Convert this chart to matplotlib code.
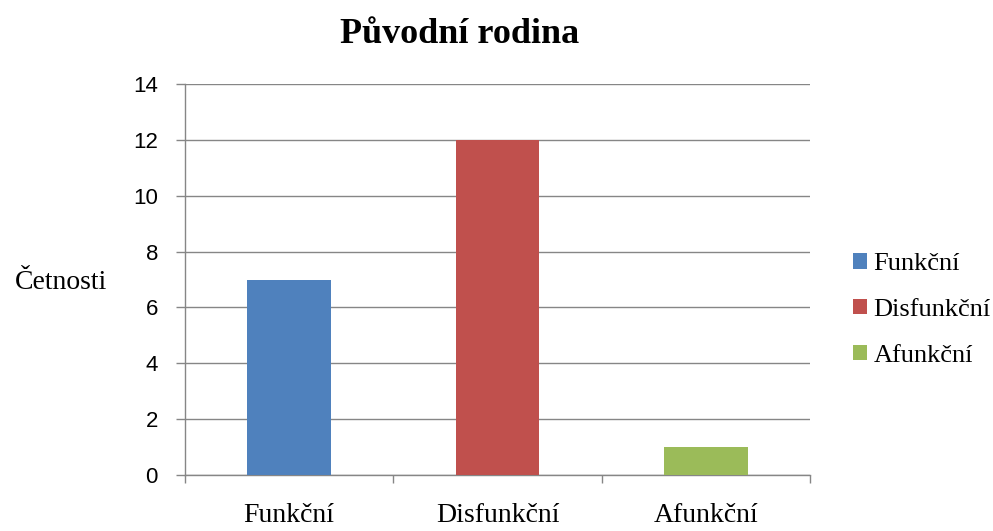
import matplotlib
matplotlib.use("Agg")
import matplotlib.pyplot as plt
from matplotlib.patches import Patch

categories = ["Funkční", "Disfunkční", "Afunkční"]
values = [7, 12, 1]
colors = ["#4F81BD", "#C0504D", "#9BBB59"]
yticks = [0, 2, 4, 6, 8, 10, 12, 14]

serif = "Liberation Serif"
sans = "Liberation Sans"
grid_c = "#868686"

fig = plt.figure(figsize=(9.93, 5.31), dpi=100)
ax = fig.add_axes([185/993, 1-475/531, (810-185)/993, (475-84)/531])

x = list(range(len(categories)))
ax.bar(x, values, width=0.4, color=colors, zorder=3)

ax.set_xlim(-0.5, len(categories) - 0.5)
ax.set_ylim(0, 14)
ax.set_yticks(yticks)
ax.set_yticklabels([str(t) for t in yticks], fontfamily=sans, fontsize=16)
ax.yaxis.grid(True, color=grid_c, linewidth=1.0, zorder=0)

ax.set_xticks(x)
ax.set_xticklabels(categories, fontfamily=serif, fontsize=20)
ax.tick_params(axis="x", length=0, pad=20)
ax.set_xticks([i - 0.5 for i in range(len(categories) + 1)], minor=True)
ax.tick_params(axis="x", which="minor", length=6, color=grid_c, width=1.0)
ax.tick_params(axis="y", length=6.5, color=grid_c, width=1.0, pad=13)

for s in ["top", "right"]:
    ax.spines[s].set_visible(False)
for s in ["left", "bottom"]:
    ax.spines[s].set_color(grid_c)
    ax.spines[s].set_linewidth(1.0)

fig.text(107/993, 1-289/531, "Četnosti", fontfamily=serif, fontsize=20,
         ha="right", va="baseline")

fig.text(460/993, 1-43/531, "Původní rodina", fontfamily=serif,
         fontsize=26, fontweight="bold", ha="center", va="baseline")

handles = [Patch(facecolor=c, edgecolor="none") for c in colors]
leg = fig.legend(handles, categories, loc="center left",
                 bbox_to_anchor=(853/993, 1-310/531), frameon=False,
                 prop={"family": serif, "size": 19},
                 handlelength=0.53, handleheight=0.53, handletextpad=0.25,
                 labelspacing=0.9, borderpad=0, borderaxespad=0)

fig.savefig("out.png", dpi=100)
